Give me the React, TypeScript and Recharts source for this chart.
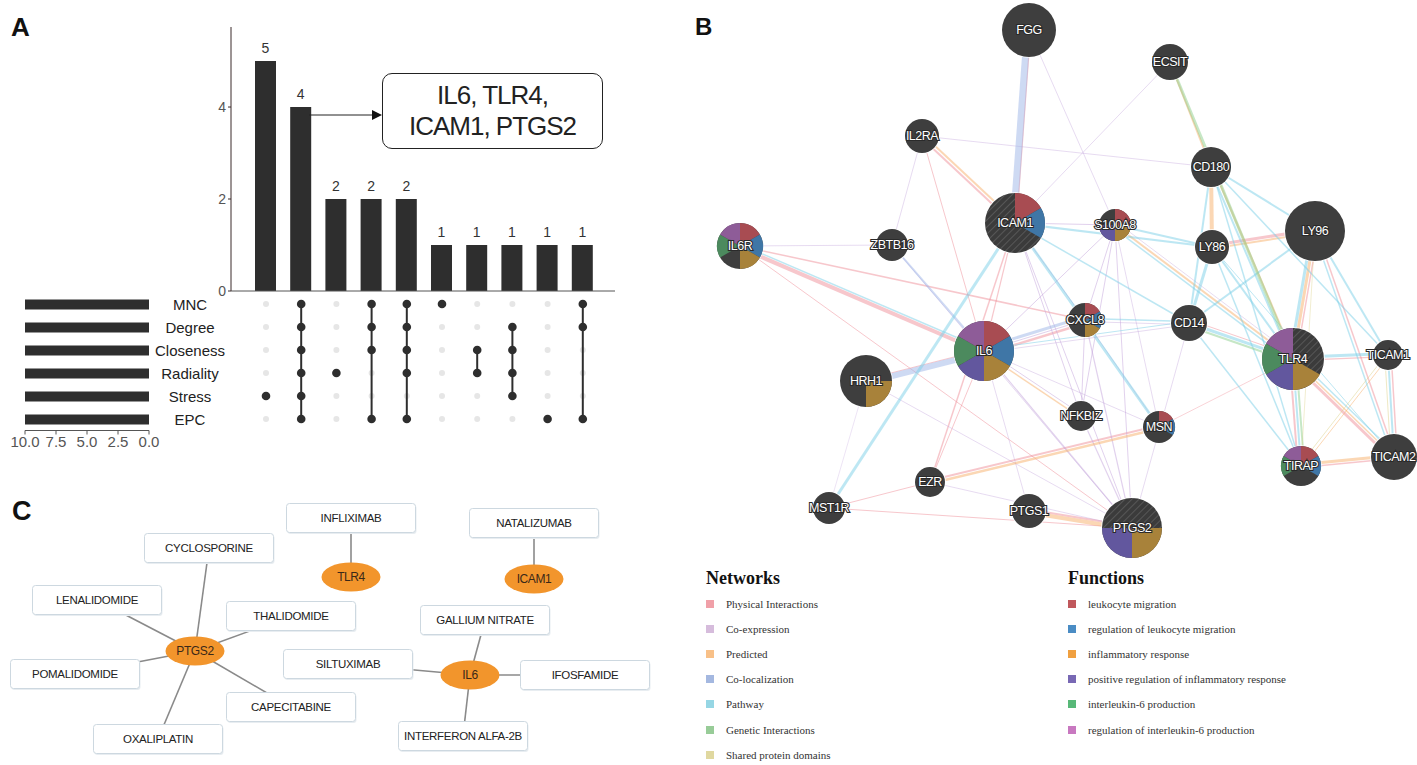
import React from "react";
import {
  BarChart,
  Bar,
  XAxis,
  YAxis,
  LabelList,
  ScatterChart,
  Scatter,
  ReferenceLine,
} from "recharts";

// ---------- A: UpSet of hub-gene algorithms ----------
const intersectionSizes = [5, 4, 2, 2, 2, 1, 1, 1, 1, 1];
const setNames = ["MNC", "Degree", "Closeness", "Radiality", "Stress", "EPC"];
const setSizes = [10, 10, 10, 10, 10, 10];
const intersectionMembers = [
  ["Stress"],
  ["MNC", "Degree", "Closeness", "Radiality", "Stress", "EPC"],
  ["Radiality"],
  ["MNC", "Degree", "Closeness", "EPC"],
  ["MNC", "Degree", "Closeness", "Radiality", "EPC"],
  ["MNC"],
  ["Closeness", "Radiality"],
  ["Degree", "Closeness", "Radiality", "Stress"],
  ["EPC"],
  ["MNC", "Degree", "EPC"],
];
const countTicks = [0, 2, 4];
const setSizeTicks = [0, 2.5, 5, 7.5, 10];
const hubGenes = ["IL6", "TLR4", "ICAM1", "PTGS2"];

// ---------- B: GeneMANIA network ----------
const geneNames = [
  "FGG", "ECSIT", "IL2RA", "CD180", "ICAM1", "S100A8", "LY96", "LY86",
  "IL6R", "ZBTB16", "CXCL8", "CD14", "IL6", "TLR4", "TICAM1", "HRH1",
  "NFKBIZ", "MSN", "TIRAP", "TICAM2", "EZR", "MST1R", "PTGS1", "PTGS2",
];
// layout positions exported from the network view
const geneLayoutX = [339, 480, 232, 521, 325, 425, 625, 522, 50, 202, 395, 499, 294, 603, 698, 176, 391, 469, 611, 704, 240, 139, 339, 442];
const geneLayoutY = [30, 62, 136, 167, 223, 225, 231, 247, 246, 245, 320, 323, 351, 359, 355, 381, 416, 427, 466, 457, 482, 508, 511, 528];
const geneScore = [27, 18, 17, 20, 30, 16, 30, 17, 23, 16, 17, 18, 30, 31, 15, 26, 15, 16, 20, 23, 15, 16, 17, 30];
const queryGenes = ["ICAM1", "IL6", "TLR4", "PTGS2"];
// function annotation per equal pie slot, clockwise from 12 o'clock (-1 = none)
const genePies: Record<string, number[]> = {
  IL6R: [0, 1, 2, -1, 4, 5],
  ICAM1: [0, 1, -1, -1, -1, -1],
  S100A8: [0, 2, 3, -1],
  CXCL8: [0, 1, 2, -1, -1, -1],
  IL6: [0, 1, 2, 3, 4, 5],
  TLR4: [-1, -1, 2, 3, 4, 5],
  HRH1: [-1, 2, -1, -1],
  MSN: [0, 1, -1, -1, -1, -1],
  TIRAP: [0, 1, -1, -1, 4, 5],
  PTGS2: [-1, 2, 3, -1],
};
const networkTypes = [
  "Physical Interactions", "Co-expression", "Predicted", "Co-localization",
  "Pathway", "Genetic Interactions", "Shared protein domains",
];
const networkColors = ["#f0a0a8", "#d6bcdc", "#f8c088", "#a4b8e0", "#96d6e4", "#98cc98", "#e0d8a0"];
const edgeColors = ["#f0909a", "#c4a4dc", "#f7b06a", "#9db6e8", "#7cd0e8", "#8ed08e", "#ddd28a"];
const functionNames = [
  "leukocyte migration", "regulation of leukocyte migration", "inflammatory response",
  "positive regulation of inflammatory response", "interleukin-6 production",
  "regulation of interleukin-6 production",
];
const functionColors = ["#c0585c", "#4a8cc4", "#f0a040", "#7868b4", "#58b878", "#c878c0"];
const pieColors = ["#a84c52", "#3f76a6", "#a8823a", "#62579e", "#4c8a5e", "#8e5c98"];

// [source, target, network type, weight]
const networkEdges: [string, string, number, number][] = [
  ["IL6R", "IL6", 0, 4], ["IL6R", "CXCL8", 0, 1.5], ["IL6R", "PTGS2", 0, 1],
  ["IL2RA", "ICAM1", 0, 2], ["IL2RA", "IL6", 0, 1], ["FGG", "ICAM1", 0, 1.2],
  ["ICAM1", "EZR", 0, 1.5], ["IL6", "EZR", 0, 1], ["EZR", "MSN", 0, 2],
  ["IL6", "HRH1", 0, 1], ["IL6", "CXCL8", 0, 2.5], ["LY86", "LY96", 0, 3],
  ["LY96", "TLR4", 0, 1.5], ["TLR4", "TIRAP", 0, 2], ["TLR4", "TICAM2", 0, 3],
  ["TIRAP", "TICAM2", 0, 1.5], ["TLR4", "TICAM1", 0, 1.2], ["TICAM1", "TICAM2", 0, 1.5],
  ["CD14", "TLR4", 0, 1], ["MST1R", "PTGS2", 0, 1], ["MST1R", "EZR", 0, 1],
  ["PTGS1", "PTGS2", 0, 2], ["MSN", "TLR4", 0, 0.8], ["LY96", "TICAM2", 0, 1.5],
  ["ICAM1", "IL6", 0, 1.2],
  ["ICAM1", "PTGS2", 1, 1], ["IL6", "PTGS2", 1, 1.2], ["CXCL8", "PTGS2", 1, 1.2],
  ["S100A8", "PTGS2", 1, 1], ["NFKBIZ", "PTGS2", 1, 1.2], ["IL6", "CXCL8", 1, 1],
  ["ICAM1", "CXCL8", 1, 1], ["ICAM1", "S100A8", 1, 1.2], ["CXCL8", "NFKBIZ", 1, 1],
  ["IL6", "NFKBIZ", 1, 1], ["S100A8", "IL6", 1, 1], ["S100A8", "CXCL8", 1, 1],
  ["S100A8", "NFKBIZ", 1, 1], ["IL2RA", "ZBTB16", 1, 0.8], ["IL2RA", "CD180", 1, 0.8],
  ["ZBTB16", "IL6R", 1, 0.8], ["ZBTB16", "PTGS2", 1, 0.8], ["FGG", "S100A8", 1, 0.8],
  ["ECSIT", "ICAM1", 1, 0.8], ["IL6", "MSN", 1, 0.8], ["CXCL8", "MSN", 1, 0.8],
  ["HRH1", "PTGS2", 1, 0.8], ["EZR", "PTGS2", 1, 0.8], ["IL6", "PTGS1", 1, 0.8],
  ["CD14", "PTGS2", 1, 0.8], ["CD14", "IL6", 1, 0.8], ["S100A8", "TLR4", 1, 0.8],
  ["CD14", "CXCL8", 1, 0.8], ["ICAM1", "NFKBIZ", 1, 1], ["S100A8", "MSN", 1, 0.8],
  ["HRH1", "MST1R", 1, 0.6],
  ["ECSIT", "CD180", 2, 2], ["CD180", "LY86", 2, 4], ["CD180", "TLR4", 2, 2],
  ["LY96", "TLR4", 2, 3], ["S100A8", "TLR4", 2, 2], ["IL2RA", "ICAM1", 2, 2],
  ["IL6", "NFKBIZ", 2, 1.5], ["EZR", "MSN", 2, 2.5], ["PTGS1", "PTGS2", 2, 4],
  ["TIRAP", "TICAM2", 2, 3], ["TLR4", "TICAM2", 2, 1.5], ["LY86", "LY96", 2, 2],
  ["TICAM1", "TIRAP", 2, 1],
  ["FGG", "ICAM1", 3, 7], ["IL6", "HRH1", 3, 6], ["ZBTB16", "IL6", 3, 2], ["CXCL8", "IL6", 3, 3],
  ["MST1R", "ICAM1", 4, 3], ["ICAM1", "MSN", 4, 3], ["IL6R", "IL6", 4, 1.5],
  ["ICAM1", "LY86", 4, 2], ["S100A8", "LY86", 4, 2], ["CD180", "LY96", 4, 2],
  ["CD180", "TLR4", 4, 2], ["CD180", "CD14", 4, 2], ["CD180", "TICAM1", 4, 1.5],
  ["LY86", "CD14", 4, 3], ["LY86", "TLR4", 4, 2], ["LY96", "TLR4", 4, 3],
  ["LY96", "CD14", 4, 2], ["LY96", "TICAM1", 4, 2], ["LY96", "TICAM2", 4, 1.5],
  ["CD14", "TLR4", 4, 3], ["CD14", "TIRAP", 4, 1.5], ["TLR4", "TICAM1", 4, 3],
  ["TLR4", "TIRAP", 4, 2], ["TICAM1", "TICAM2", 4, 2], ["TLR4", "TICAM2", 4, 1.5],
  ["LY86", "TIRAP", 4, 1.5], ["CD180", "TIRAP", 4, 1.5], ["CXCL8", "CD14", 4, 1.5],
  ["IL6", "CD14", 4, 1], ["ICAM1", "CD14", 4, 1.5], ["S100A8", "TLR4", 4, 1.5],
  ["LY86", "TICAM2", 4, 1],
  ["ECSIT", "TLR4", 5, 3], ["CD14", "TLR4", 5, 2], ["TLR4", "TIRAP", 5, 2],
  ["TICAM1", "TICAM2", 6, 1], ["TIRAP", "TICAM1", 6, 1], ["LY96", "TIRAP", 6, 0.8],
];

// ---------- C: drug-gene network ----------
const targetGenes = ["TLR4", "ICAM1", "PTGS2", "IL6"];
const targetX = [351, 534, 195, 470];
const targetY = [107, 109, 181, 205];
const drugNames = [
  "INFLIXIMAB", "NATALIZUMAB", "CYCLOSPORINE", "LENALIDOMIDE", "THALIDOMIDE",
  "GALLIUM NITRATE", "SILTUXIMAB", "IFOSFAMIDE", "POMALIDOMIDE", "CAPECITABINE",
  "OXALIPLATIN", "INTERFERON ALFA-2B",
];
const drugX = [351, 534, 209, 97, 291, 485, 348, 585, 75, 291, 158, 463];
const drugY = [48, 53, 78, 130, 146, 150, 194, 205, 204, 237, 269, 266];
const drugTarget = ["TLR4", "ICAM1", "PTGS2", "PTGS2", "PTGS2", "IL6", "IL6", "IL6", "PTGS2", "PTGS2", "PTGS2", "IL6"];

const dark = "#2e2e2e";

function wedge(cx: number, cy: number, r: number, a0: number, a1: number) {
  const p = (a: number) => [cx + r * Math.sin((a * Math.PI) / 180), cy - r * Math.cos((a * Math.PI) / 180)];
  const [x0, y0] = p(a0);
  const [x1, y1] = p(a1);
  return `M${cx},${cy} L${x0},${y0} A${r},${r} 0 ${a1 - a0 > 180 ? 1 : 0} 1 ${x1},${y1} Z`;
}

function GeneNode(props: any) {
  const { cx, cy, payload } = props;
  const r = payload.r;
  const slots = genePies[payload.name] ?? [];
  const n = slots.length;
  const base = queryGenes.includes(payload.name) ? "url(#queryHatch)" : "#3e3e3e";
  return (
    <g>
      <circle cx={cx} cy={cy} r={r + 0.8} fill="#fff" />
      <circle cx={cx} cy={cy} r={r} fill={base} />
      {slots.map((f, k) =>
        f < 0 ? null : <path key={k} d={wedge(cx, cy, r, (k * 360) / n, ((k + 1) * 360) / n)} fill={pieColors[f]} />
      )}
      <text
        x={cx}
        y={cy}
        textAnchor="middle"
        dominantBaseline="central"
        fontSize={12.5}
        letterSpacing={-0.5}
        fill="#fff"
        stroke="#2a2a2a"
        strokeWidth={2.2}
        paintOrder="stroke"
      >
        {payload.name}
      </text>
    </g>
  );
}

function MatrixDot(props: any) {
  const { cx, cy, payload } = props;
  return payload.on ? <circle cx={cx} cy={cy} r={4.3} fill={dark} /> : <circle cx={cx} cy={cy} r={3} fill="#e6e6e6" />;
}

function DrugBox(props: any) {
  const { cx, cy, payload } = props;
  const w = 129;
  const h = 29;
  return (
    <g>
      <rect x={cx - w / 2 + 1} y={cy - h / 2 + 1.5} width={w} height={h} rx={3} fill="#e8edf1" />
      <rect x={cx - w / 2} y={cy - h / 2} width={w} height={h} rx={3} fill="#fff" stroke="#cdd8e0" strokeWidth={1} />
      <text x={cx} y={cy} textAnchor="middle" dominantBaseline="central" fontSize={11.5} letterSpacing={-0.3} fill="#222">
        {payload.name}
      </text>
    </g>
  );
}

function GeneEllipse(props: any) {
  const { cx, cy, payload } = props;
  return (
    <g>
      <ellipse cx={cx} cy={cy} rx={29.5} ry={14.5} fill="#f2952c" />
      <text x={cx} y={cy} textAnchor="middle" dominantBaseline="central" fontSize={12} letterSpacing={-0.4} fill="#3a2818">
        {payload.name}
      </text>
    </g>
  );
}

function PanelLabel({ text, left, top, size }: { text: string; left: number; top: number; size: number }) {
  return (
    <div style={{ position: "absolute", left, top, fontSize: size, lineHeight: `${size}px`, fontWeight: "bold", color: "#111" }}>
      {text}
    </div>
  );
}

function LegendColumn({ title, items, colors, left }: { title: string; items: string[]; colors: string[]; left: number }) {
  return (
    <div style={{ position: "absolute", left, top: 566, fontFamily: '"Liberation Serif", "DejaVu Serif", serif', color: "#333" }}>
      <div style={{ fontWeight: "bold", fontSize: 18, height: 25, lineHeight: "25px", color: "#111" }}>{title}</div>
      {items.map((t, i) => (
        <div key={t} style={{ display: "flex", alignItems: "center", height: 25.2, fontSize: 11 }}>
          <span style={{ width: 8, height: 8, background: colors[i], marginRight: 12, display: "inline-block" }} />
          {t}
        </div>
      ))}
    </div>
  );
}

export default function App() {
  const barData = intersectionSizes.map((v, i) => ({ id: `I${i + 1}`, count: v }));
  const setData = setNames.map((s, i) => ({ set: s, size: setSizes[i] }));
  const matrix = intersectionMembers.flatMap((members, col) =>
    setNames.map((s, row) => ({ x: col, y: row, on: members.includes(s) }))
  );
  const spans = intersectionMembers
    .map((members, col) => {
      const rows = members.map((m) => setNames.indexOf(m));
      return { col, lo: Math.min(...rows), hi: Math.max(...rows) };
    })
    .filter((s) => s.hi > s.lo);

  const nodes = geneNames.map((name, i) => ({ name, x: geneLayoutX[i], y: geneLayoutY[i], r: geneScore[i] }));
  const pos: Record<string, { x: number; y: number }> = Object.fromEntries(nodes.map((n) => [n.name, n]));

  // parallel edges between the same pair are fanned out side by side
  const pairCount: Record<string, number> = {};
  networkEdges.forEach(([a, b]) => {
    const key = [a, b].sort().join("|");
    pairCount[key] = (pairCount[key] ?? 0) + 1;
  });
  const pairSeen: Record<string, number> = {};
  const edgeSegments = networkEdges.map(([a, b, t, w]) => {
    const key = [a, b].sort().join("|");
    const k = pairSeen[key] ?? 0;
    pairSeen[key] = k + 1;
    const [p, q] = a < b ? [pos[a], pos[b]] : [pos[b], pos[a]];
    const len = Math.hypot(q.x - p.x, q.y - p.y) || 1;
    const off = (k - (pairCount[key] - 1) / 2) * 3.2;
    const nx = (-(q.y - p.y) / len) * off;
    const ny = ((q.x - p.x) / len) * off;
    return { p: { x: p.x + nx, y: p.y + ny }, q: { x: q.x + nx, y: q.y + ny }, t, w };
  });

  const genes = targetGenes.map((name, i) => ({ name, x: targetX[i], y: targetY[i] }));
  const genePos: Record<string, { x: number; y: number }> = Object.fromEntries(genes.map((g) => [g.name, g]));
  const drugs = drugNames.map((name, i) => ({ name, x: drugX[i], y: drugY[i], target: drugTarget[i] }));

  return (
    <div
      style={{
        position: "absolute",
        left: 0,
        top: 0,
        width: 1417,
        height: 765,
        background: "#fff",
        overflow: "hidden",
        fontFamily: '"Liberation Sans", Arial, sans-serif',
      }}
    >
      <PanelLabel text="A" left={11} top={14} size={26} />
      <PanelLabel text="B" left={695} top={15} size={24} />
      <PanelLabel text="C" left={12} top={498} size={27} />

      {/* A: intersection sizes */}
      <div style={{ position: "absolute", left: 180, top: 0 }}>
        <BarChart width={440} height={300} data={barData} margin={{ top: 27, right: 5, bottom: 8, left: 0 }}>
          <XAxis dataKey="id" tick={false} tickLine={false} height={1} padding={{ left: 17, right: 15 }} stroke="#555" />
          <YAxis
            domain={[0, 5.74]}
            ticks={countTicks}
            width={51}
            tickSize={3}
            tickMargin={2}
            stroke="#3a2a2a"
            tick={{ fontSize: 14, fill: "#555" }}
            allowDataOverflow
          />
          <Bar dataKey="count" fill={dark} barSize={21} isAnimationActive={false}>
            <LabelList dataKey="count" position="top" offset={8} fill="#333" fontSize={14} />
          </Bar>
        </BarChart>
      </div>

      {/* hub genes call-out */}
      <svg style={{ position: "absolute", left: 305, top: 108 }} width={80} height={14}>
        <line x1={4} y1={7} x2={70} y2={7} stroke="#222" strokeWidth={1} />
        <polygon points="67,2 77,7 67,12" fill="#111" />
      </svg>
      <div
        style={{
          position: "absolute",
          left: 382,
          top: 73,
          width: 221,
          height: 76,
          boxSizing: "border-box",
          border: "1.5px solid #222",
          borderRadius: 10,
          display: "flex",
          flexDirection: "column",
          alignItems: "center",
          justifyContent: "center",
          fontSize: 26,
          lineHeight: "31px",
          letterSpacing: -1,
          color: "#222",
        }}
      >
        <div>{hubGenes.slice(0, 2).join(", ")},</div>
        <div>{hubGenes.slice(2).join(", ")}</div>
      </div>

      {/* A: set sizes */}
      <div style={{ position: "absolute", left: 0, top: 280 }}>
        <BarChart width={231} height={181} layout="vertical" data={setData} margin={{ top: 12.5, right: 0, bottom: 0.5, left: 25 }}>
          <XAxis
            type="number"
            domain={[0, 10]}
            ticks={setSizeTicks}
            reversed
            height={30}
            tickSize={4}
            tickMargin={2}
            stroke="#555"
            tickFormatter={(v: number) => v.toFixed(1)}
            tick={{ fontSize: 15, fill: "#555" }}
          />
          <YAxis
            type="category"
            dataKey="set"
            orientation="right"
            width={82}
            axisLine={false}
            tickLine={false}
            tickSize={0}
            tickMargin={0}
            tick={(p: any) => (
              <text x={p.x + 41} y={p.y} textAnchor="middle" dominantBaseline="central" fontSize={15} fill="#222">
                {p.payload.value}
              </text>
            )}
          />
          <Bar dataKey="size" fill={dark} barSize={10} isAnimationActive={false} />
        </BarChart>
      </div>

      {/* A: membership matrix */}
      <div style={{ position: "absolute", left: 180, top: 280 }}>
        <ScatterChart width={440} height={160} margin={{ top: 12.5, right: 19.6, bottom: 9.5, left: 68.4 }}>
          <XAxis type="number" dataKey="x" domain={[-0.5, 9.5]} hide />
          <YAxis type="number" dataKey="y" domain={[-0.5, 5.5]} reversed hide />
          <Scatter data={matrix.filter((d) => !d.on)} shape={MatrixDot} isAnimationActive={false} />
          {spans.map((s) => (
            <Scatter
              key={s.col}
              data={[
                { x: s.col, y: s.lo },
                { x: s.col, y: s.hi },
              ]}
              line={{ stroke: dark, strokeWidth: 2 }}
              shape={() => <g />}
              isAnimationActive={false}
            />
          ))}
          <Scatter data={matrix.filter((d) => d.on)} shape={MatrixDot} isAnimationActive={false} />
        </ScatterChart>
      </div>

      {/* B: network */}
      <div style={{ position: "absolute", left: 690, top: 0 }}>
        <ScatterChart width={727} height={560} margin={{ top: 0, right: 0, bottom: 0, left: 0 }}>
          <defs>
            <pattern id="queryHatch" patternUnits="userSpaceOnUse" width={5} height={5} patternTransform="rotate(45)">
              <rect width={5} height={5} fill="#3b3b3b" />
              <line x1={0} y1={0} x2={0} y2={5} stroke="#5e5e5e" strokeWidth={1.6} />
            </pattern>
          </defs>
          <XAxis type="number" dataKey="x" domain={[0, 727]} hide />
          <YAxis type="number" dataKey="y" domain={[0, 560]} reversed hide />
          {edgeSegments.map((e, i) => (
            <ReferenceLine
              key={i}
              segment={[e.p, e.q]}
              stroke={edgeColors[e.t]}
              strokeWidth={e.w}
              strokeOpacity={0.5}
              ifOverflow="visible"
            />
          ))}
          <Scatter data={nodes} shape={GeneNode} isAnimationActive={false} />
        </ScatterChart>
      </div>
      <LegendColumn title="Networks" items={networkTypes} colors={networkColors} left={706} />
      <LegendColumn title="Functions" items={functionNames} colors={functionColors} left={1068} />

      {/* C: drug-gene network */}
      <div style={{ position: "absolute", left: 0, top: 470 }}>
        <ScatterChart width={680} height={295} margin={{ top: 0, right: 0, bottom: 0, left: 0 }}>
          <XAxis type="number" dataKey="x" domain={[0, 680]} hide />
          <YAxis type="number" dataKey="y" domain={[0, 295]} reversed hide />
          {drugs.map((d) => (
            <ReferenceLine
              key={d.name}
              segment={[
                { x: d.x, y: d.y },
                { x: genePos[d.target].x, y: genePos[d.target].y },
              ]}
              stroke="#8a8a8a"
              strokeWidth={1.6}
              ifOverflow="visible"
            />
          ))}
          <Scatter data={drugs} shape={DrugBox} isAnimationActive={false} />
          <Scatter data={genes} shape={GeneEllipse} isAnimationActive={false} />
        </ScatterChart>
      </div>
    </div>
  );
}
